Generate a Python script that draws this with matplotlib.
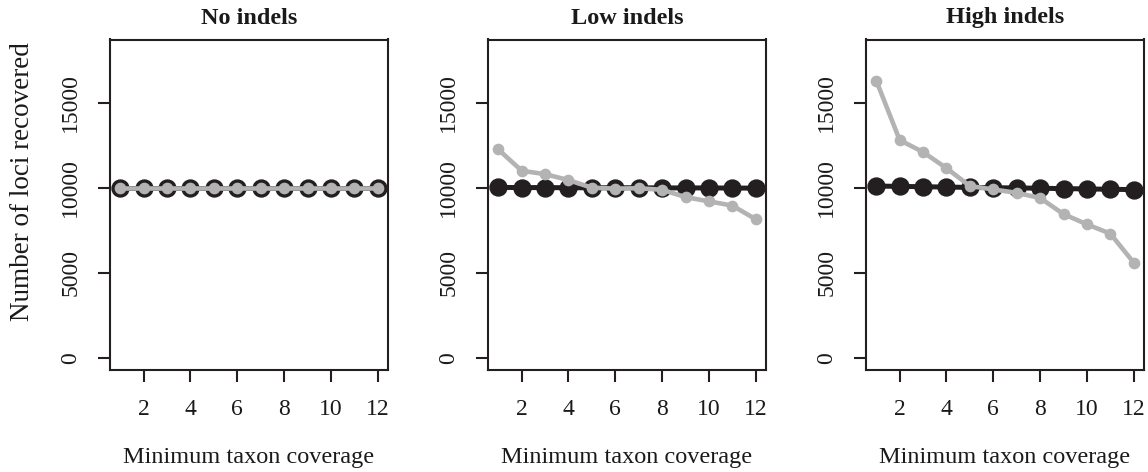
import matplotlib
matplotlib.use("Agg")
import matplotlib.pyplot as plt

coverage = list(range(1, 13))
titles = ["No indels", "Low indels", "High indels"]
black_series = [
    [10000] * 12,
    [10020, 10010, 10010, 10000, 10000, 10000, 10000, 9990, 9990, 9990, 9980, 9980],
    [10100, 10080, 10060, 10040, 10020, 10000, 9990, 9970, 9950, 9930, 9910, 9890],
]
grey_series = [
    [10000] * 12,
    [12250, 11000, 10800, 10450, 10000, 9950, 9970, 9880, 9450, 9200, 8950, 8150],
    [16300, 12800, 12100, 11150, 10100, 9900, 9700, 9400, 8450, 7850, 7300, 5600],
]
xticks = [2, 4, 6, 8, 10, 12]
yticks = [0, 5000, 10000, 15000]
xlabel = "Minimum taxon coverage"
ylabel = "Number of loci recovered"

W, H = 1148, 472
plt.rcParams['font.family'] = ['Liberation Serif', 'DejaVu Serif']
fig = plt.figure(figsize=(W / 100, H / 100), dpi=100)

dark = '#231f20'
grey = '#b3b3b3'
lefts = [110, 488, 866]
pw = 278
top, bottom = 39.5, 370

for i in range(3):
    ax = fig.add_axes([lefts[i] / W, 1 - bottom / H, pw / W, (bottom - top) / H])
    ax.plot(coverage, black_series[i], color=dark, lw=3.6, marker='o', ms=12.2,
            mec=dark, mfc=dark, zorder=3)
    ax.plot(coverage, grey_series[i], color=grey, lw=3.3, marker='o', ms=7.4,
            mec=grey, mfc=grey, zorder=4)
    ax.set_xlim(0.56, 12.44)
    ax.set_ylim(-720, 18720)
    ax.set_xticks(xticks)
    ax.set_yticks(yticks)
    ax.set_xticklabels([str(t) for t in xticks])
    ax.set_yticklabels([str(t) for t in yticks], rotation=90, va='center')
    ax.tick_params(axis='both', length=8.6, width=1.5, color=dark, labelsize=17,
                   labelcolor='#1a1a1a')
    ax.tick_params(axis='x', pad=12)
    ax.tick_params(axis='y', pad=12)
    for s in ax.spines.values():
        s.set_linewidth(1.5)
        s.set_color(dark)
    cx = (lefts[i] + pw / 2) / W
    fig.text(cx, 1 - 18 / H, titles[i], ha='center', va='center',
             fontsize=17.5, fontweight='bold', color='#1a1a1a')
    fig.text(cx, 1 - 458 / H, xlabel, ha='center', va='center',
             fontsize=17.5, color='#1a1a1a')

fig.text(23 / W, 1 - 182 / H, ylabel, ha='center', va='center', rotation=90,
         fontsize=19.5, color='#1a1a1a')

fig.savefig('out.png', dpi=100)
